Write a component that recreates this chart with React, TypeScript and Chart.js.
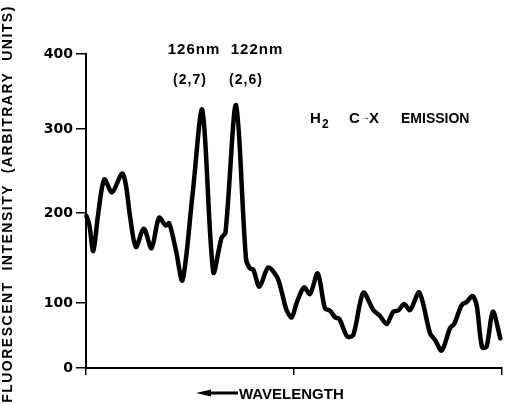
import React, { useEffect, useRef } from 'react';
import { Chart, registerables, LinearScale } from 'chart.js';

// Relative position along the (unlabelled) wavelength axis, 0 = left end, 100 = right end
const wavelengthPos = [0.1, 0.8, 1.75, 2.9, 4.4, 6.25, 8.65, 9.6, 10.6, 12.0, 13.9, 15.75, 17.55, 19.2, 20.0, 21.6, 23.2, 25.6, 27.96, 30.6, 32.57, 33.53, 36.06, 38.46, 39.42, 40.2, 41.7, 43.8, 45.9, 47.0, 48.2, 49.45, 50.6, 52.4, 53.85, 55.7, 57.45, 58.65, 59.86, 60.9, 62.8, 64.25, 66.66, 69.06, 70.67, 72.28, 73.87, 75.07, 76.5, 77.9, 80.1, 82.7, 83.9, 85.5, 87.5, 88.5, 90.3, 91.5, 92.9, 93.9, 95.2, 96.3, 97.8, 99.6];
// Fluorescent intensity (arbitrary units)
const intensity = [196.7, 186.7, 157.8, 197.8, 239.9, 224.4, 247, 233, 195.9, 162.2, 182.6, 160.8, 194.7, 186.1, 188.6, 158.9, 125.2, 221.4, 325.3, 134.4, 172.2, 178.3, 332, 148.9, 138.3, 137.2, 118.1, 139.4, 128.9, 113.3, 89.2, 78, 99.5, 117.4, 110, 133, 91.8, 88.2, 78, 75.4, 48.5, 50.8, 111.4, 89.2, 80, 67.7, 86.6, 88.5, 98.5, 89.2, 111.7, 53.4, 43.1, 26.9, 61.1, 67.7, 96.9, 101.1, 107.8, 96.9, 31.8, 33.1, 86.6, 45.7];

// Y-axis tick labels and where the hand-drawn axis places them (as share of a 0..400 span)
const yTickValues = [0, 100, 200, 300, 400];
const yTickPlacement = [0, 82.8, 197.5, 304.5, 400];

const xTickStep = 50;

const peakLabels = ['126nm', '122nm'];
const bandLabels = ['(2,7)', '(2,6)'];

function interp(v: number, xs: number[], ys: number[]) {
  let i = 1;
  while (i < xs.length - 1 && v > xs[i]) i++;
  const x0 = xs[i - 1], x1 = xs[i];
  return ys[i - 1] + ((v - x0) * (ys[i] - ys[i - 1])) / (x1 - x0);
}

class WarpedLinearScale extends LinearScale {
  static id = 'warpedLinear';
  static defaults = LinearScale.defaults;
  getPixelForValue(value: any) {
    if (value === null || value === undefined) return NaN;
    return super.getPixelForValue(interp(value, yTickValues, yTickPlacement));
  }
  getValueForPixel(pixel: number) {
    return interp(super.getValueForPixel(pixel) as number, yTickPlacement, yTickValues);
  }
}

Chart.register(...registerables, WarpedLinearScale as any);

const textPlugin = {
  id: 'figureText',
  afterDraw(chart: any) {
    const ctx = chart.ctx as CanvasRenderingContext2D;
    ctx.save();
    ctx.fillStyle = '#000';
    ctx.strokeStyle = '#000';

    // Y axis title (rotated)
    ctx.save();
    ctx.translate(8, 204);
    ctx.rotate(-Math.PI / 2);
    ctx.font = 'bold 14px "Liberation Sans"';
    (ctx as any).letterSpacing = '1.5px';
    ctx.textAlign = 'center';
    ctx.textBaseline = 'middle';
    ctx.fillText('FLUORESCENT  INTENSITY  (ARBITRARY  UNITS)', 0, 0);
    ctx.restore();

    // Peak annotations
    ctx.textAlign = 'center';
    ctx.textBaseline = 'alphabetic';
    ctx.font = 'bold 15px "Liberation Sans"';
    (ctx as any).letterSpacing = '1px';
    ctx.fillText(peakLabels[0], 194, 54);
    ctx.fillText(peakLabels[1], 257, 54);
    ctx.font = 'bold 14px "Liberation Sans"';
    ctx.fillText(bandLabels[0], 190, 84);
    ctx.fillText(bandLabels[1], 246, 84);
    (ctx as any).letterSpacing = '0px';

    // H2 C->X EMISSION
    ctx.textAlign = 'left';
    ctx.font = 'bold 15px "Liberation Sans"';
    ctx.fillText('H', 310, 123);
    ctx.font = 'bold 12px "Liberation Sans"';
    ctx.fillText('2', 322, 128);
    ctx.font = 'bold 15px "Liberation Sans"';
    ctx.fillText('C', 349, 123);
    ctx.font = 'bold 10px "Liberation Sans"';
    ctx.fillText('\u2192', 360, 120);
    ctx.font = 'bold 15px "Liberation Sans"';
    ctx.fillText('X', 369, 123);
    ctx.font = 'bold 14px "Liberation Sans"';
    ctx.fillText('EMISSION', 401, 123);

    // Wavelength arrow + label
    ctx.font = 'bold 15px "Liberation Sans"';
    ctx.fillText('WAVELENGTH', 239, 399);
    ctx.lineWidth = 3;
    ctx.beginPath();
    ctx.moveTo(206, 393);
    ctx.lineTo(238, 393);
    ctx.stroke();
    ctx.beginPath();
    ctx.moveTo(196, 393);
    ctx.lineTo(211, 389.5);
    ctx.lineTo(211, 396.5);
    ctx.closePath();
    ctx.fill();

    ctx.restore();
  },
};

export default function App() {
  const ref = useRef<HTMLCanvasElement>(null);
  useEffect(() => {
    document.body.style.margin = '0';
    const points = wavelengthPos.map((x, i) => ({ x, y: intensity[i] }));
    const axisLine = { display: true, color: '#000', width: 2 };
    const chart = new Chart(ref.current as HTMLCanvasElement, {
      type: 'line',
      data: {
        datasets: [
          {
            data: points,
            borderColor: '#000',
            borderWidth: 4.5,
            pointRadius: 0,
            tension: 0.3,
            fill: false,
            clip: false as any,
            borderJoinStyle: 'round',
            borderCapStyle: 'round',
          } as any,
        ],
      },
      options: {
        responsive: false,
        animation: false,
        devicePixelRatio: 1,
        layout: { padding: { top: 54, right: 4, bottom: 0, left: 0 } },
        plugins: { legend: { display: false }, tooltip: { enabled: false }, title: { display: false } },
        scales: {
          x: {
            type: 'linear',
            min: 0,
            max: 100,
            ticks: { display: false, stepSize: xTickStep },
            grid: { drawOnChartArea: false, drawTicks: true, tickLength: 7, color: '#000', lineWidth: 1.5 },
            border: axisLine,
            afterFit: (s: any) => {
              s.height = 36;
            },
          },
          y: {
            type: 'warpedLinear' as any,
            min: yTickValues[0],
            max: yTickValues[yTickValues.length - 1],
            ticks: {
              stepSize: 100,
              color: '#000',
              padding: 3,
              font: { family: '"DejaVu Sans"', size: 14, weight: 'bold' },
            },
            grid: { drawOnChartArea: false, drawTicks: true, tickLength: 10, color: '#000', lineWidth: 1.5 },
            border: axisLine,
            afterFit: (s: any) => {
              s.width = 86;
            },
          } as any,
        },
      },
      plugins: [textPlugin],
    });
    return () => chart.destroy();
  }, []);
  return (
    <div style={{ width: 506, height: 404, background: '#fff' }}>
      <canvas ref={ref} width={506} height={404} style={{ display: 'block' }} />
    </div>
  );
}
